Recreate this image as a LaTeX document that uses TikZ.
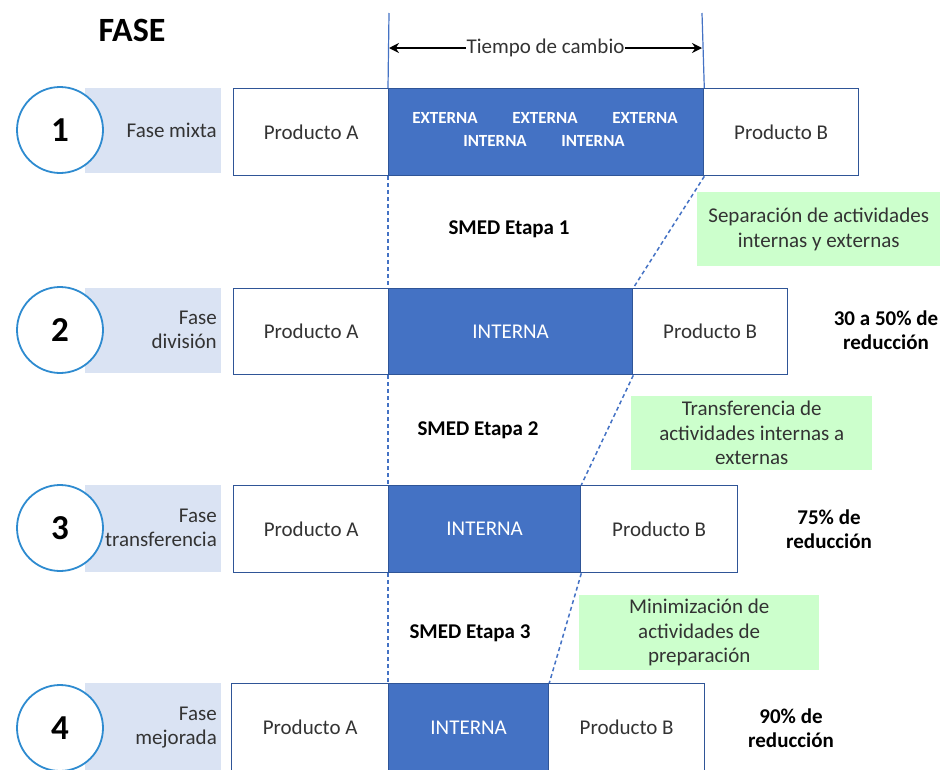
\documentclass[tikz,border=0pt]{standalone}
\usepackage{fontspec}
\setmainfont{Carlito}
\usetikzlibrary{arrows.meta}
\definecolor{bandc}{HTML}{DAE3F3}
\definecolor{circc}{HTML}{2E8BD0}
\definecolor{boxc}{HTML}{2F5597}
\definecolor{fillc}{HTML}{4472C4}
\definecolor{greenc}{HTML}{CCFFCC}
\definecolor{txtc}{HTML}{333333}
\tikzset{
  prodbox/.style={draw=boxc, line width=1.3pt, fill=white, anchor=north west, inner sep=0pt, font=\fontsize{21}{24}\selectfont, text=txtc},
  intbox/.style={draw=boxc, line width=1.3pt, fill=fillc, anchor=north west, inner sep=0pt, font=\fontsize{21}{24}\selectfont, text=white},
  band/.style={fill=bandc, anchor=north west, inner sep=0pt, minimum width=136pt},
  bandtxt/.style={anchor=east, align=right, font=\fontsize{21}{24}\selectfont, text=txtc, inner sep=0pt},
  numc/.style={circle, draw=circc, line width=1.8pt, fill=white, minimum size=86pt, inner sep=0pt, font=\fontsize{35}{36}\selectfont\bfseries},
  greenbox/.style={fill=greenc, anchor=north west, inner sep=0pt, align=center, text=txtc, font=\fontsize{21}{24.5}\selectfont},
  smed/.style={font=\fontsize{21}{24}\selectfont\bfseries},
  redtxt/.style={align=center, font=\fontsize{21}{24}\selectfont\bfseries},
  dashc/.style={draw=fillc, dash pattern=on 4pt off 3pt, line width=1.5pt},
  vline/.style={draw=fillc, line width=1.2pt},
  smalltxt/.style={text=white, font=\fontsize{17}{20}\selectfont\bfseries, inner sep=0pt}
}
\begin{document}
\begin{tikzpicture}[x=1pt,y=-1pt]
\useasboundingbox (0,0) rectangle (948,769);
\node[font=\fontsize{34}{36}\selectfont\bfseries] (fase) at (132,30) {FASE};
% bands
\node[band, minimum height=85pt] (b1) at (85,88) {};
\node[band, minimum height=85pt] (b2) at (85,288) {};
\node[band, minimum height=87pt] (b3) at (85,485) {};
\node[band, minimum height=87pt] (b4) at (85,683) {};
\node[bandtxt] (l1) at (217,130) {Fase mixta};
\node[bandtxt] (l2) at (217,330) {Fase\\división};
\node[bandtxt] (l3) at (217,528) {Fase\\transferencia};
\node[bandtxt] (l4) at (217,728) {Fase\\mejorada};
\node[numc] (c1) at (60,130) {1};
\node[numc] (c2) at (60,330) {2};
\node[numc] (c3) at (60,528) {3};
\node[numc] (c4) at (60,728) {4};
% row 1
\node[prodbox, minimum width=155pt, minimum height=87pt] (a1) at (233,88) {Producto A};
\node[intbox, minimum width=315pt, minimum height=87pt] (i1) at (388,88) {};
\node[prodbox, minimum width=155pt, minimum height=87pt] (p1) at (703,88) {Producto B};
\node[smalltxt] (e1) at (445,118) {EXTERNA};
\node[smalltxt] (e2) at (545,118) {EXTERNA};
\node[smalltxt] (e3) at (645,118) {EXTERNA};
\node[smalltxt] (n1) at (495,141) {INTERNA};
\node[smalltxt] (n2) at (593,141) {INTERNA};
% row 2
\node[prodbox, minimum width=155pt, minimum height=86pt] (a2) at (233,288) {Producto A};
\node[intbox, minimum width=244pt, minimum height=86pt] (i2) at (388,288) {INTERNA};
\node[prodbox, minimum width=155pt, minimum height=86pt] (p2) at (632,288) {Producto B};
% row 3
\node[prodbox, minimum width=155pt, minimum height=87pt] (a3) at (233,485) {Producto A};
\node[intbox, minimum width=192pt, minimum height=87pt] (i3) at (388,485) {INTERNA};
\node[prodbox, minimum width=157pt, minimum height=87pt] (p3) at (580,485) {Producto B};
% row 4
\node[prodbox, minimum width=157pt, minimum height=88pt] (a4) at (231,683) {Producto A};
\node[intbox, minimum width=160pt, minimum height=88pt] (i4) at (388,683) {INTERNA};
\node[prodbox, minimum width=156pt, minimum height=88pt] (p4) at (548,683) {Producto B};
% tiempo de cambio
\coordinate (t1) at (389,13);
\coordinate (t2) at (702,13);
\draw[vline] (t1) -- (i1.north west);
\draw[vline] (t2) -- (i1.north east);
\coordinate (ar1) at (389,48);
\coordinate (ar2) at (702,48);
\draw[line width=1.8pt, {Stealth[length=10pt,width=10pt]}-{Stealth[length=10pt,width=10pt]}] (ar1) -- (ar2) node[midway, fill=white, inner sep=1pt, text=txtc, font=\fontsize{21}{24}\selectfont] (tc) {Tiempo de cambio};
% dashed connectors
\draw[dashc] (i1.south west) -- (i2.north west);
\draw[dashc] (i1.south east) -- (i2.north east);
\draw[dashc] (i2.south west) -- (i3.north west);
\draw[dashc] (i2.south east) -- (i3.north east);
\draw[dashc] (i3.south west) -- (i4.north west);
\draw[dashc] (i3.south east) -- (i4.north east);
% green boxes
\node[greenbox, minimum width=243pt, minimum height=74pt] (g1) at (697,192) {Separación de actividades\\internas y externas};
\node[greenbox, minimum width=241pt, minimum height=74pt] (g2) at (631,396) {Transferencia de\\actividades internas a\\externas};
\node[greenbox, minimum width=240pt, minimum height=75pt] (g3) at (579,595) {Minimización de\\actividades de\\preparación};
% SMED
\node[smed] (s1) at (509,229) {SMED Etapa 1};
\node[smed] (s2) at (478,430) {SMED Etapa 2};
\node[smed] (s3) at (470,633) {SMED Etapa 3};
% reductions
\node[redtxt] (r1) at (886,330) {30 a 50\% de\\reducción};
\node[redtxt] (r2) at (829,529) {75\% de\\reducción};
\node[redtxt] (r3) at (791,728) {90\% de\\reducción};
\end{tikzpicture}
\end{document}
